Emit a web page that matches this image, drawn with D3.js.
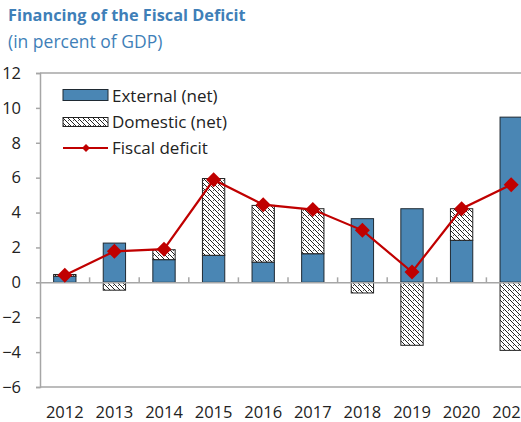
<!DOCTYPE html>
<html><head><meta charset="utf-8">
<script src="https://cdn.jsdelivr.net/npm/d3@7"></script>
<style>body{margin:0;background:#fff}svg{display:block}</style>
</head><body>
<svg id="c" width="521" height="422"></svg>
<script>
const years = ["2012","2013","2014","2015","2016","2017","2018","2019","2020","2021"];
const external = [0.35, 2.25, 1.3, 1.55, 1.16, 1.64, 3.65, 4.22, 2.41, 9.47];
const domestic = [0.1, -0.45, 0.57, 4.4, 3.25, 2.58, -0.61, -3.61, 1.81, -3.9];
const deficit = [0.4, 1.78, 1.9, 5.88, 4.45, 4.17, 2.98, 0.59, 4.22, 5.6];
const yTicks = [-6, -4, -2, 0, 2, 4, 6, 8, 10, 12];
const seriesNames = ["External (net)", "Domestic (net)", "Fiscal deficit"];

const svg = d3.select("#c");
const font = "'Open Sans', sans-serif";
const blue = "#4a86b4", red = "#c00000", axisGray = "#a6a6a6";

const defs = svg.append("defs");
const pat = defs.append("pattern").attr("id","hatch").attr("patternUnits","userSpaceOnUse")
  .attr("width",5).attr("height",5);
pat.append("rect").attr("width",5).attr("height",5).attr("fill","#fff");
pat.append("path").attr("d","M-1,-1 L6,6 M-1,4 L1,6 M4,-1 L6,1").attr("stroke","#222").attr("stroke-width",1);
pat.append("rect").attr("x",3).attr("y",0).attr("width",1).attr("height",1).attr("fill","#555");

const x = d3.scaleBand().domain(years).range([40, 536]).paddingInner(0.55).paddingOuter(0.275);
const xb = d3.scaleBand().domain(years).range([40, 536]);
const y = d3.scaleLinear().domain([-6, 12]).range([387, 73]);

// title
svg.append("text").attr("x",8).attr("y",21).attr("font-family",font).attr("font-weight","bold")
  .attr("font-size",16.3).attr("fill","#3f7fb8").text("Financing of the Fiscal Deficit");
svg.append("text").attr("x",8).attr("y",48).attr("font-family",font)
  .attr("font-size",17.5).attr("fill","#3f7fb8").text("(in percent of GDP)");

// frame
svg.append("line").attr("x1",40).attr("x2",521).attr("y1",y(12)).attr("y2",y(12)).attr("stroke",axisGray).attr("stroke-width",1.5);
svg.append("line").attr("x1",40).attr("x2",521).attr("y1",y(-6)).attr("y2",y(-6)).attr("stroke",axisGray).attr("stroke-width",1.5);

// y axis
const ya = svg.append("g").attr("transform","translate(40,0)")
  .call(d3.axisLeft(y).tickValues(yTicks).tickSize(4).tickPadding(15));
ya.select(".domain").attr("stroke",axisGray).attr("stroke-width",1.5);
ya.selectAll(".tick line").attr("stroke",axisGray).attr("stroke-width",1.5);
ya.selectAll(".tick text").attr("font-family",font).attr("font-size",16.5).attr("fill","#222");

// bars
const g = svg.append("g");
years.forEach((yr,i)=>{
  const e = external[i], d = domestic[i];
  g.append("rect").attr("x",x(yr)).attr("width",x.bandwidth())
    .attr("y",y(Math.max(e,0))).attr("height",Math.abs(y(e)-y(0)))
    .attr("fill",blue).attr("stroke","#1f2a33").attr("stroke-width",1);
  let base = d >= 0 ? Math.max(e,0) : Math.min(e,0);
  if (e < 0 && d >= 0) base = 0;
  const top = base + d;
  g.append("rect").attr("x",x(yr)).attr("width",x.bandwidth())
    .attr("y",y(Math.max(base,top))).attr("height",Math.abs(y(top)-y(base)))
    .attr("fill","url(#hatch)").attr("stroke","#222").attr("stroke-width",1);
});

// zero axis with ticks at band boundaries
const xa = svg.append("g").attr("transform",`translate(0,${y(0)})`)
  .call(d3.axisTop(xb).tickSize(0).tickFormat(""));
xa.select(".domain").attr("stroke",axisGray).attr("stroke-width",1.5);
svg.append("g").selectAll("line").data(years.slice(1)).join("line")
  .attr("x1",d=>xb(d)).attr("x2",d=>xb(d)).attr("y1",y(0)).attr("y2",y(0)-5)
  .attr("stroke",axisGray).attr("stroke-width",1.5);

// category labels
const xl = svg.append("g").attr("transform",`translate(0,${y(-6)})`)
  .call(d3.axisBottom(xb).tickSize(0).tickPadding(19));
xl.select(".domain").remove();
xl.selectAll(".tick text").attr("font-family",font).attr("font-size",16.5).attr("fill","#222");

// line
const line = d3.line().x((d,i)=>xb(years[i])+xb.bandwidth()/2).y(d=>y(d));
svg.append("path").datum(deficit).attr("d",line).attr("fill","none").attr("stroke",red).attr("stroke-width",2.2);
const diamond = s => `M0,${-s} L${s},0 L0,${s} L${-s},0 Z`;
svg.append("g").selectAll("path").data(deficit).join("path")
  .attr("transform",(d,i)=>`translate(${xb(years[i])+xb.bandwidth()/2},${y(d)})`)
  .attr("d",diamond(7.5)).attr("fill",red);

// legend
const lg = svg.append("g").attr("font-family",font).attr("font-size",17).attr("fill","#222");
lg.append("rect").attr("x",63).attr("y",89.5).attr("width",45).attr("height",11).attr("fill",blue).attr("stroke","#1f2a33");
lg.append("rect").attr("x",63).attr("y",117.5).attr("width",45).attr("height",9).attr("fill","url(#hatch)").attr("stroke","#222");
lg.append("line").attr("x1",63).attr("x2",108).attr("y1",148).attr("y2",148).attr("stroke",red).attr("stroke-width",2);
lg.append("path").attr("transform","translate(86,148)").attr("d",diamond(4)).attr("fill",red);
[102,128,154].forEach((yy,i)=>lg.append("text").attr("x",112).attr("y",yy).text(seriesNames[i]));
</script>
</body></html>
